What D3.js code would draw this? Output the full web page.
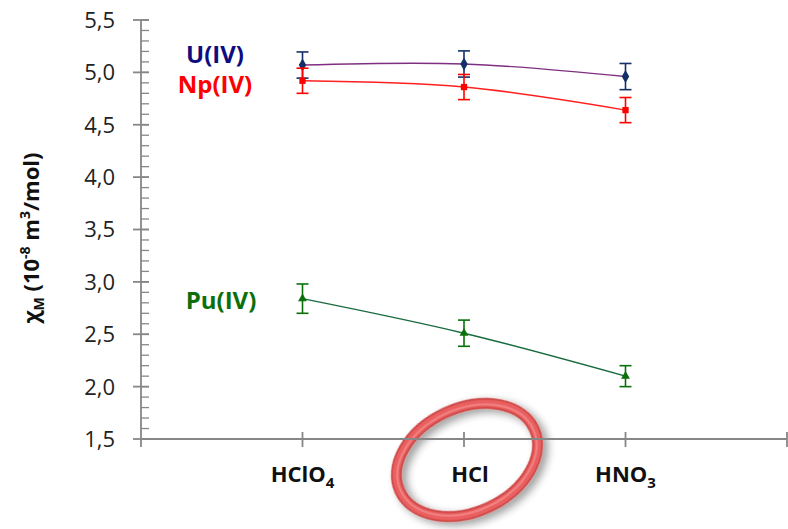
<!DOCTYPE html>
<html>
<head>
<meta charset="utf-8">
<script src="https://cdn.jsdelivr.net/npm/d3@7"></script>
<style>
  body { margin: 0; background: #fff; }
  svg { display: block; font-family: "Open Sans", sans-serif; }
</style>
</head>
<body>
<svg id="chart" width="788" height="529"></svg>
<script>
// categories on the x axis (positions 1..3 of a 0..4 axis)
var acids = ['HClO4', 'HCl', 'HNO3'];
var acidLabels = [['HClO', '4'], ['HCl', ''], ['HNO', '3']];

// molar susceptibility values, 10^-8 m3/mol
var uValues = [5.07, 5.08, 4.96];
var uErrors = [0.125, 0.125, 0.125];
var npValues = [4.92, 4.86, 4.64];
var npErrors = [0.12, 0.12, 0.12];
var puValues = [2.84, 2.51, 2.10];
var puErrors = [0.14, 0.125, 0.10];

var yTicks = [1.5, 2.0, 2.5, 3.0, 3.5, 4.0, 4.5, 5.0, 5.5];

var svg = d3.select('#chart');

var x = d3.scaleLinear().domain([0, 4]).range([141, 787]);
var y = d3.scaleLinear().domain([1.5, 5.5]).range([439, 20]);

var comma = d3.formatLocale({decimal: ',', thousands: '.', grouping: [3], currency: ['', '']}).format('.1f');
var axisColor = '#878787';

// red ring around the HCl label (drawn first, the axis sits on top of it)
var defs = svg.append('defs');
var f = defs.append('filter').attr('id', 'shadow')
  .attr('x', '-30%').attr('y', '-30%').attr('width', '160%').attr('height', '160%');
f.append('feGaussianBlur').attr('in', 'SourceAlpha').attr('stdDeviation', 4).attr('result', 'b');
f.append('feOffset').attr('in', 'b').attr('dx', 3).attr('dy', 5).attr('result', 'o');
f.append('feComponentTransfer').attr('in', 'o').attr('result', 's')
  .append('feFuncA').attr('type', 'linear').attr('slope', 0.4);
var fm = f.append('feMerge');
fm.append('feMergeNode').attr('in', 's');
fm.append('feMergeNode').attr('in', 'SourceGraphic');

var ring = svg.append('g')
  .attr('transform', 'translate(' + (x(2) + 3) + ',460) rotate(-25)')
  .attr('filter', 'url(#shadow)');
ring.append('ellipse')
  .attr('rx', 74).attr('ry', 52)
  .attr('fill', 'none')
  .attr('stroke', '#cf4a4a')
  .attr('stroke-width', 11);
ring.append('ellipse')
  .attr('rx', 74).attr('ry', 52)
  .attr('fill', 'none')
  .attr('stroke', '#ea5f5f')
  .attr('stroke-width', 7);
ring.append('ellipse')
  .attr('rx', 73).attr('ry', 51)
  .attr('fill', 'none')
  .attr('stroke', '#f79a9a')
  .attr('stroke-opacity', 0.6)
  .attr('stroke-width', 2);

// y axis: major ticks cross the line, minor ticks only on the right side
var minor = d3.range(15, 56).map(function (d) { return d / 10; });
var yAxis = svg.append('g');
yAxis.append('line')
  .attr('x1', x(0)).attr('x2', x(0))
  .attr('y1', y(5.5)).attr('y2', y(1.5) + 8)
  .attr('stroke', axisColor).attr('stroke-width', 1.8);
yAxis.selectAll('.minor').data(minor).enter().append('line')
  .attr('x1', x(0)).attr('x2', x(0) + 8)
  .attr('y1', function (d) { return y(d); }).attr('y2', function (d) { return y(d); })
  .attr('stroke', axisColor).attr('stroke-width', 1.3);
yAxis.selectAll('.major').data(yTicks).enter().append('line')
  .attr('x1', x(0) - 8).attr('x2', x(0) + 8)
  .attr('y1', function (d) { return y(d); }).attr('y2', function (d) { return y(d); })
  .attr('stroke', axisColor).attr('stroke-width', 1.8);
yAxis.selectAll('text').data(yTicks).enter().append('text')
  .attr('x', 115).attr('y', function (d) { return y(d); })
  .attr('dy', '0.36em')
  .attr('text-anchor', 'end')
  .attr('font-size', 22)
  .attr('fill', '#222')
  .text(comma);

// x axis
var xAxis = svg.append('g');
xAxis.append('line')
  .attr('x1', x(0)).attr('x2', x(4))
  .attr('y1', y(1.5)).attr('y2', y(1.5))
  .attr('stroke', axisColor).attr('stroke-width', 1.8);
xAxis.selectAll('.xt').data([1, 2, 3, 4]).enter().append('line')
  .attr('x1', function (d) { return x(d); }).attr('x2', function (d) { return x(d); })
  .attr('y1', y(1.5) - 7).attr('y2', y(1.5) + 8)
  .attr('stroke', axisColor).attr('stroke-width', 1.8);
var xl = xAxis.selectAll('.xl').data(acidLabels).enter().append('text')
  .attr('x', function (d, i) { return x(i + 1) + (d[1] ? 0 : 6); })
  .attr('y', 482)
  .attr('text-anchor', 'middle')
  .attr('font-size', 22)
  .attr('font-weight', 'bold')
  .attr('fill', '#111');
xl.append('tspan').text(function (d) { return d[0]; });
xl.append('tspan').attr('dy', 6).attr('font-size', 15).text(function (d) { return d[1]; });

// y axis title
var yt = svg.append('text')
  .attr('transform', 'translate(39,238) rotate(-90)')
  .attr('text-anchor', 'middle')
  .attr('font-size', 22)
  .attr('font-weight', 'bold')
  .attr('fill', '#111');
yt.append('tspan').text('χ');
yt.append('tspan').attr('dy', 5).attr('font-size', 14).text('M');
yt.append('tspan').attr('dy', -5).text(' (10');
yt.append('tspan').attr('dy', -9).attr('font-size', 14).text('-8');
yt.append('tspan').attr('dy', 9).text(' m');
yt.append('tspan').attr('dy', -9).attr('font-size', 14).text('3');
yt.append('tspan').attr('dy', 9).text('/mol)');

// series
var series = [
  {name: 'U(IV)', values: uValues, errors: uErrors, line: '#7f2f82', mark: '#13306a', label: '#0d0d80', shape: d3.symbolDiamond, size: 48, lx: 215, ly: 63},
  {name: 'Np(IV)', values: npValues, errors: npErrors, line: '#ff2020', mark: '#ff0000', label: '#ff0000', shape: d3.symbolSquare, size: 40, lx: 215, ly: 93},
  {name: 'Pu(IV)', values: puValues, errors: puErrors, line: '#1a6a40', mark: '#0a700a', label: '#0b700b', shape: d3.symbolTriangle, size: 34, lx: 221, ly: 309}
];

var line = d3.line()
  .x(function (d, i) { return x(i + 1); })
  .y(function (d) { return y(d); })
  .curve(d3.curveCatmullRom.alpha(0.5));

series.forEach(function (s) {
  var g = svg.append('g');
  g.append('path')
    .attr('d', line(s.values))
    .attr('fill', 'none')
    .attr('stroke', s.line)
    .attr('stroke-width', 1.4);
  // error bars
  s.values.forEach(function (v, i) {
    var cx = x(i + 1);
    g.append('line')
      .attr('x1', cx).attr('x2', cx)
      .attr('y1', y(v + s.errors[i])).attr('y2', y(v - s.errors[i]))
      .attr('stroke', s.mark).attr('stroke-width', 1.6);
    [v + s.errors[i], v - s.errors[i]].forEach(function (e) {
      g.append('line')
        .attr('x1', cx - 6).attr('x2', cx + 6)
        .attr('y1', y(e)).attr('y2', y(e))
        .attr('stroke', s.mark).attr('stroke-width', 1.6);
    });
    g.append('path')
      .attr('d', d3.symbol().type(s.shape).size(s.size)())
      .attr('transform', 'translate(' + cx + ',' + y(v) + ')')
      .attr('fill', s.mark);
  });
  g.append('text')
    .attr('x', s.lx).attr('y', s.ly)
    .attr('text-anchor', 'middle')
    .attr('font-size', 24)
    .attr('font-weight', 'bold')
    .attr('fill', s.label)
    .text(s.name);
});
</script>
</body>
</html>
